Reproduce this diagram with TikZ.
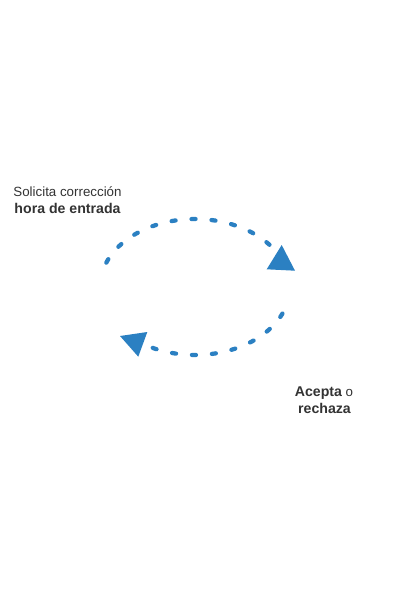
\documentclass[tikz,border=0pt]{standalone}
\usepackage{fontspec}
\setmainfont{Liberation Sans}
\definecolor{arcblue}{HTML}{2B80C2}
\definecolor{txtgray}{HTML}{333333}
\newcommand{\bigbold}[1]{{\fontsize{10.6}{12.5}\selectfont\bfseries #1}}
\begin{document}
\begin{tikzpicture}[x=0.75pt,y=-0.75pt,
  lbl/.style={anchor=base,inner sep=0pt,text=txtgray,font=\fontsize{10}{12.5}\selectfont},
  arcline/.style={draw=arcblue,line width=3.2pt,line cap=round,dash pattern=on 3pt off 12pt},
  tip/.style={fill=arcblue,draw=none}]
\useasboundingbox[fill=white] (0,0) rectangle (400,600);
% labels
\node[lbl] (sol1) at (67.5,196.5) {Solicita corrección};
\node[lbl] (sol2) at (67.5,213.2) {\bigbold{hora de entrada}};
\node[lbl] (acp1) at (324,396.5) {\bigbold{Acepta} o};
\node[lbl] (acp2) at (324.5,413.2) {\bigbold{rechaza}};
% upper arc
\draw[arcline] plot[domain=201:325,samples=80] ({195+95*cos(\x)},{287+68*sin(\x)});
\fill[tip] (295,270.7) -- (281.7,245) -- (266.7,269.3) -- cycle;
% lower arc
\draw[arcline] plot[domain=23:117,samples=80] ({195+95*cos(\x)},{287+68*sin(\x)});
\fill[tip] (120,336) -- (147.3,332) -- (138.3,356.7) -- cycle;
\end{tikzpicture}
\end{document}
